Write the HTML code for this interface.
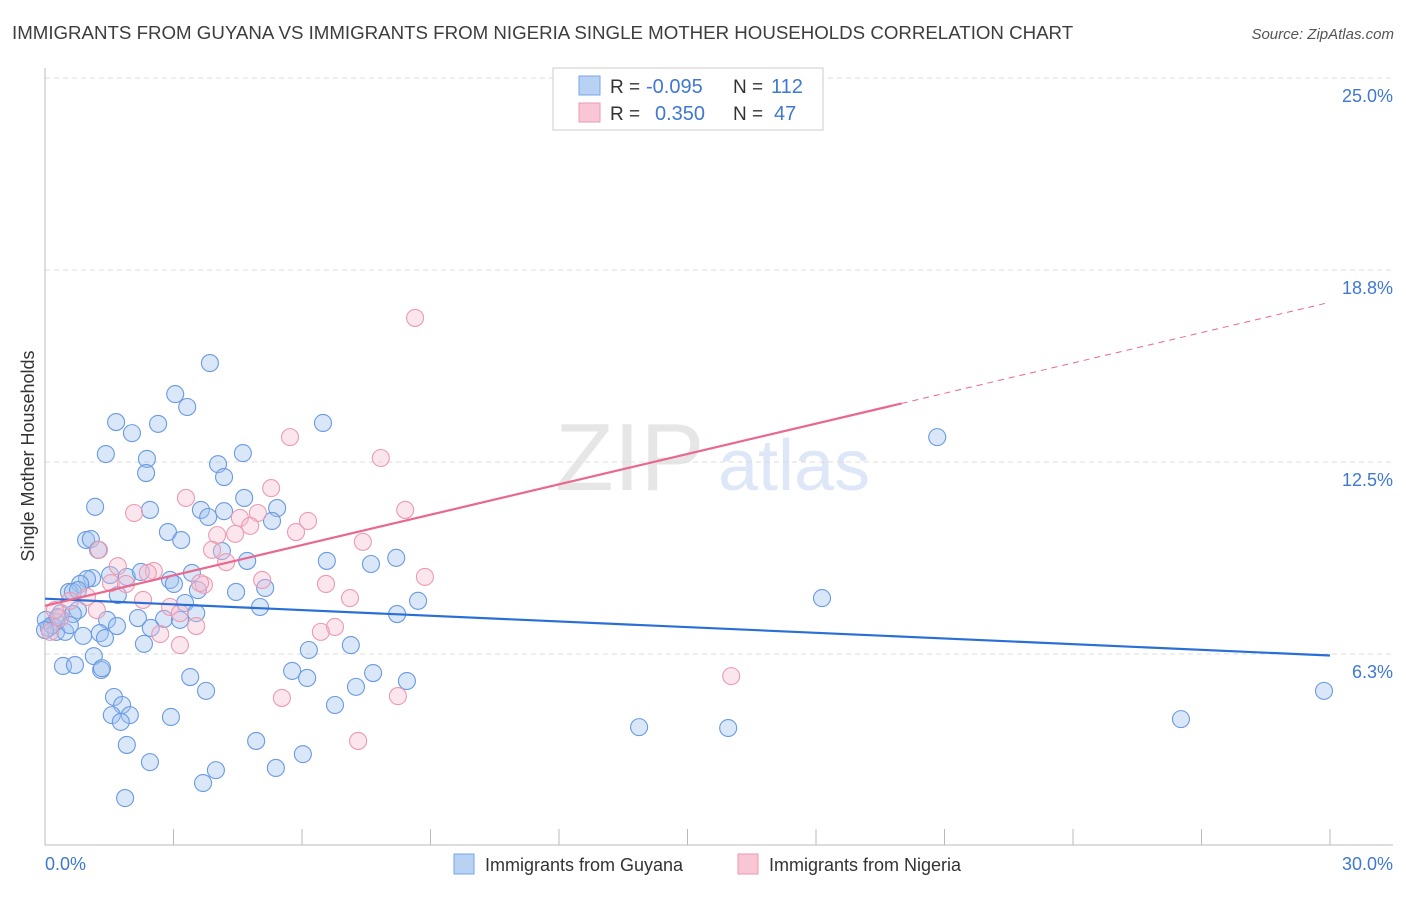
<!DOCTYPE html>
<html><head><meta charset="utf-8"><style>
body{margin:0;background:#fff;font-family:"Liberation Sans",sans-serif;}
svg text{font-family:"Liberation Sans",sans-serif;}
</style></head><body>
<svg id="chart" width="1406" height="892" xmlns="http://www.w3.org/2000/svg">
<text x="12" y="39" font-size="18.7" fill="#3d3d3d">IMMIGRANTS FROM GUYANA VS IMMIGRANTS FROM NIGERIA SINGLE MOTHER HOUSEHOLDS CORRELATION CHART</text>
<text x="1394" y="39" font-size="15" fill="#555" font-style="italic" text-anchor="end">Source: ZipAtlas.com</text>
<g opacity="0.18">
<text x="555" y="490" font-size="96" font-family="Liberation Serif, serif" fill="#777">ZIP</text>
<text x="718" y="490" font-size="72" fill="#4a7fd4">atlas</text>
</g>
<text transform="translate(34,456) rotate(-90)" font-size="18" fill="#333" text-anchor="middle">Single Mother Households</text>
<g id="grid"></g>
<line x1="45" y1="68" x2="45" y2="845" stroke="#bbb" stroke-width="1"/>
<line x1="45" y1="845" x2="1393" y2="845" stroke="#bbb" stroke-width="1"/>
<g id="ticks"></g>
<g id="marks"></g>
<g id="trends"></g>
<g>
<rect x="553" y="68" width="270" height="62" fill="#fff" stroke="#ccc"/>
<rect x="579" y="76" width="21" height="19" fill="#b8d2f4" stroke="#7aa6e4"/>
<rect x="579" y="103" width="21" height="19" fill="#f8c6d4" stroke="#eb9ab2"/>
<text x="610" y="93" font-size="19" fill="#333">R = </text>
<text x="646" y="93" font-size="20" fill="#3f78d0">-0.095</text>
<text x="733" y="93" font-size="19" fill="#333">N = </text>
<text x="771" y="93" font-size="20" fill="#3f78d0">112</text>
<text x="610" y="120" font-size="19" fill="#333">R = </text>
<text x="655" y="120" font-size="20" fill="#3f78d0">0.350</text>
<text x="733" y="120" font-size="19" fill="#333">N = </text>
<text x="774" y="120" font-size="20" fill="#3f78d0">47</text>
</g>
<g>
<rect x="454" y="854" width="20" height="20" fill="#b8d2f4" stroke="#7aa6e4"/>
<text x="485" y="871" font-size="18" fill="#333">Immigrants from Guyana</text>
<rect x="738" y="854" width="20" height="20" fill="#f8c6d4" stroke="#eb9ab2"/>
<text x="769" y="871" font-size="18" fill="#333">Immigrants from Nigeria</text>
</g>
</svg>
<script>
const blueX=[3.85,3.04,3.32,1.66,2.64,6.49,2.03,20.83,1.42,2.38,4.62,4.04,2.36,4.18,1.17,2.45,4.65,3.64,5.42,4.18,3.81,5.30,2.87,0.96,1.07,3.18,1.24,4.13,4.72,6.58,8.20,7.61,1.10,0.98,1.52,1.91,2.24,3.43,0.82,2.92,3.01,0.56,0.65,0.77,1.70,4.46,5.14,3.57,18.14,3.27,8.71,5.02,0.37,0.77,0.65,3.53,2.78,1.45,3.15,2.17,8.22,0.26,1.68,2.47,0.09,0.26,0.47,1.28,0.89,1.40,2.31,7.14,6.16,1.14,0.42,0.70,1.31,1.33,5.77,7.66,3.39,6.12,8.45,7.26,3.76,29.86,1.61,1.80,6.77,1.56,1.98,2.94,1.77,26.52,13.87,15.95,1.91,4.93,6.02,2.45,3.99,5.39,3.69,1.87,0.02,0.16,0.30,0.00,0.58];
const blueY=[15.72,14.71,14.29,13.80,13.74,13.77,13.44,13.31,12.76,12.60,12.79,12.43,12.14,12.01,11.04,10.94,11.33,10.94,11.00,10.90,10.71,10.58,10.22,9.96,9.99,9.96,9.64,9.60,9.28,9.28,9.38,9.18,8.72,8.69,8.82,8.76,8.92,8.89,8.53,8.66,8.53,8.27,8.27,8.33,8.17,8.27,8.40,8.33,8.07,7.91,7.98,7.78,7.58,7.68,7.55,7.58,7.39,7.36,7.36,7.42,7.55,7.29,7.16,7.10,7.10,6.97,6.97,6.93,6.84,6.77,6.58,6.54,6.38,6.18,5.86,5.89,5.73,5.79,5.70,5.63,5.50,5.47,5.37,5.18,5.05,5.05,4.85,4.59,4.59,4.26,4.26,4.20,4.04,4.13,3.87,3.84,3.29,3.42,2.99,2.73,2.47,2.54,2.05,1.56,7.36,7.19,7.45,7.03,7.19];
const pinkX=[8.64,5.72,7.84,5.28,3.29,2.08,8.41,4.55,4.97,6.14,4.79,5.86,4.44,4.02,7.42,3.90,1.70,4.23,1.26,2.54,2.40,1.54,5.07,6.56,1.89,3.71,3.62,7.12,8.87,2.29,0.98,1.21,2.92,3.15,3.53,6.77,6.44,2.69,3.15,0.58,0.35,0.12,16.02,5.53,8.24,7.31,0.23];
const pinkY=[17.19,13.31,12.63,11.65,11.33,10.84,10.94,10.68,10.84,10.58,10.42,10.22,10.16,10.12,9.90,9.64,9.11,9.24,9.64,8.95,8.89,8.56,8.66,8.53,8.53,8.50,8.56,8.07,8.76,8.01,8.11,7.68,7.78,7.58,7.16,7.13,6.97,6.90,6.54,7.98,7.42,6.97,5.53,4.82,4.88,3.42,7.68];
const yTicks=[6.25,12.5,18.75,25.0];
const yTickLabels=["6.3%","12.5%","18.8%","25.0%"];
const xTicks=[0,3,6,9,12,15,18,21,24,27,30];
const blueTrend=[8.05,6.2];
const pinkTrend=[7.82,17.7];
const X0=45,X1=1330,Y0=654,YS=192/6.25;
const sx=v=>X0+(X1-X0)*v/30;
const sy=v=>Y0-(v-6.25)*YS;
const NS="http://www.w3.org/2000/svg";
function mk(parent,tag,attrs){const e=document.createElementNS(NS,tag);for(const k in attrs)e.setAttribute(k,attrs[k]);parent.appendChild(e);return e;}
const grid=document.getElementById('grid'),ticks=document.getElementById('ticks'),marks=document.getElementById('marks'),trends=document.getElementById('trends');
yTicks.forEach((t,i)=>{
 const l=mk(grid,'line',{x1:45,x2:1393,y1:sy(t),y2:sy(t),stroke:'#ddd','stroke-dasharray':'5,4'});
 
 
 const tx=mk(grid,'text',{x:1393,y:sy(t)+24,'font-size':18,fill:'#3f78d0','text-anchor':'end'});
 tx.textContent=yTickLabels[i];
 
 
});
xTicks.forEach(t=>{
 const l=mk(ticks,'line',{x1:sx(t),x2:sx(t),y1:829,y2:845,stroke:'#bbb'});
 
 
});
const xl0=mk(ticks,'text',{x:45,y:870,'font-size':18,fill:'#3f78d0'});xl0.textContent='0.0%';


const xl1=mk(ticks,'text',{x:1393,y:870,'font-size':18,fill:'#3f78d0','text-anchor':'end'});xl1.textContent='30.0%';


blueX.forEach((x,i)=>{
 const c=mk(marks,'circle',{cx:sx(x),cy:sy(blueY[i]),r:8.5,fill:'rgba(160,196,240,0.4)',stroke:'#6a9ae0','stroke-width':1.1});
 
 
});
pinkX.forEach((x,i)=>{
 const c=mk(marks,'circle',{cx:sx(x),cy:sy(pinkY[i]),r:8.5,fill:'rgba(248,190,208,0.38)',stroke:'#eb9ab2','stroke-width':1.1});
 
 
});
const bl=mk(trends,'line',{x1:sx(0),y1:sy(blueTrend[0]),x2:sx(30),y2:sy(blueTrend[1]),stroke:'#2a6fd6','stroke-width':2.2});


const pAt=x=>pinkTrend[0]+(pinkTrend[1]-pinkTrend[0])*x/30;
const pl=mk(trends,'line',{x1:sx(0),y1:sy(pAt(0)),x2:sx(20),y2:sy(pAt(20)),stroke:'#e8688f','stroke-width':2.2});


const pd=mk(trends,'line',{x1:sx(20),y1:sy(pAt(20)),x2:sx(30),y2:sy(pAt(30)),stroke:'#e8688f','stroke-width':1,'stroke-dasharray':'6,5'});


</script>
</body></html>
